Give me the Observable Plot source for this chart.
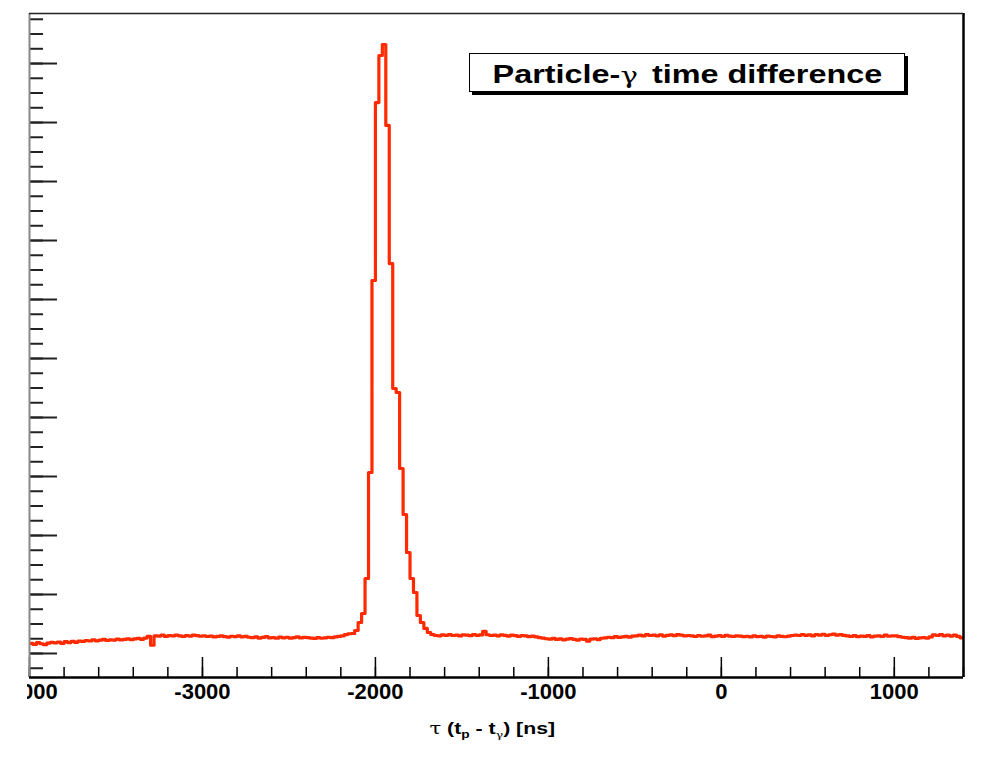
<!DOCTYPE html>
<html>
<head>
<meta charset="utf-8">
<script src="https://cdn.jsdelivr.net/npm/d3@7"></script>
<script src="https://cdn.jsdelivr.net/npm/@observablehq/plot@0.6"></script>
<style>
html, body { margin: 0; padding: 0; background: #fff; }
body { width: 985px; height: 758px; position: relative; overflow: hidden; font-family: "Liberation Sans", Arial, Helvetica, sans-serif; }
#clip { position: absolute; left: 27px; top: 0; width: 958px; height: 758px; overflow: hidden; }
#chart { position: absolute; left: -38px; top: 0; }
#title { position: absolute; left: 469px; top: 53px; width: 436px; height: 39px; box-sizing: border-box; border: 1.5px solid #000; box-shadow: 3px 3px 0 #000; background: #fff; display: flex; align-items: center; justify-content: center; padding-top: 4px; }
#title .t { display: inline-block; font-weight: bold; font-size: 25.5px; transform: scaleX(1.27); white-space: nowrap; color: #000; }
#title .g { font-weight: normal; font-family: "DejaVu Serif", "Liberation Serif", serif; font-size: 23px; margin-right: 4px; }
#xlabel { position: absolute; left: 392px; width: 200px; top: 718px; text-align: center; line-height: 20px; }
#xlabel .t { display: inline-block; font-weight: bold; font-size: 17px; transform: scaleX(1.25); white-space: nowrap; color: #000; }
#xlabel .g { font-weight: normal; font-family: "DejaVu Serif", "Liberation Serif", serif; }
#xlabel sub { font-size: 11px; vertical-align: -4px; line-height: 0; }
#xlabel sub.g2 { font-weight: normal; font-family: "DejaVu Serif", "Liberation Serif", serif; font-size: 10px; }
</style>
</head>
<body>
<div id="clip"><div id="chart"></div></div>
<div id="title"><span class="t">Particle-<span class="g">γ</span> time difference</span></div>
<div id="xlabel"><span class="t"><span class="g">τ</span> (t<sub>p</sub> - t<sub class="g2">γ</sub>) [ns]</span></div>
<script>
// Axis ranges
const xMin = -4000, xMax = 1400, binWidth = 20;
const yMin = 593, yMax = 11848;

// Tick positions / labels
const xMajor = [-4000, -3000, -2000, -1000, 0, 1000];
const xMajorLabels = ["-4000", "-3000", "-2000", "-1000", "0", "1000"];
const xMinor = [-4000, -3800, -3600, -3400, -3200, -3000, -2800, -2600, -2400, -2200, -2000, -1800, -1600, -1400, -1200, -1000, -800, -600, -400, -200, 0, 200, 400, 600, 800, 1000, 1200, 1400];
const yMajor = [1000, 2000, 3000, 4000, 5000, 6000, 7000, 8000, 9000, 10000, 11000];
const yMinor = d3.range(750, yMax, 250);

// Bin counts, 20 ns bins starting at -4000 ns
const leftBaseline = [
  1170, 1153, 1186, 1165, 1150, 1175, 1190, 1180, 1195, 1170, 1200, 1185, 1205, 1190, 1210,
  1205, 1220, 1212, 1230, 1215, 1225, 1240, 1220, 1232, 1228, 1245, 1230, 1238, 1250, 1235, 1248, 1255, 1240, 1262,
  1290,
  1140,
  1300, 1295, 1310, 1290, 1305, 1298, 1312, 1300, 1290, 1305, 1295, 1310, 1302, 1292, 1300,
  1288, 1295, 1280, 1290, 1300, 1285, 1278, 1292, 1286, 1298, 1282, 1290,
  1275, 1268, 1280, 1262, 1272, 1285, 1265, 1270, 1258, 1278, 1266, 1275, 1260, 1270, 1282, 1264, 1272, 1268,
  1262, 1255, 1270, 1258, 1265, 1275, 1268, 1280,
  1290, 1300, 1320, 1335
];
const peakCounts = [
  1339, 1390, 1525, 1678, 2271, 4068, 7322, 10339, 11136, 11322, 9950, 7610, 5492,
  5424, 4136, 3356, 2712, 2271, 2034, 1644, 1525, 1424, 1356, 1322, 1305
];
const rightBaseline = [
  1300, 1315, 1308, 1320, 1305, 1312, 1298, 1318, 1310, 1302, 1322, 1308, 1315,
  1375,
  1318, 1305, 1312, 1300, 1315, 1308, 1296, 1310, 1302, 1290, 1305, 1298, 1285, 1295, 1280, 1270, 1262,
  1250, 1242, 1255, 1238, 1248, 1232, 1245, 1252, 1240, 1228, 1246, 1238, 1210, 1244, 1250, 1236, 1258,
  1265, 1275, 1268, 1285, 1272, 1280, 1290, 1276, 1295, 1300,
  1310, 1298, 1320, 1305, 1312, 1300, 1318, 1295, 1308, 1315, 1302, 1320, 1310, 1298, 1305,
  1300, 1288, 1305, 1292, 1298, 1310, 1285, 1296, 1302, 1290, 1308, 1295, 1288, 1300, 1294,
  1285, 1292, 1280, 1298, 1286, 1290, 1278, 1295, 1288, 1282, 1300, 1290, 1284, 1296, 1305,
  1312, 1305, 1320, 1308, 1316, 1300, 1322, 1310, 1326, 1305, 1318, 1328, 1312, 1320, 1306,
  1298, 1288, 1302, 1285, 1295, 1290, 1305, 1282, 1296, 1300, 1288, 1310, 1292, 1298, 1300,
  1285, 1275, 1268, 1260, 1272, 1255, 1265, 1270, 1262, 1280,
  1318, 1305, 1322, 1300, 1310, 1295, 1312, 1290, 1265
];

const counts = [...leftBaseline, ...peakCounts, ...rightBaseline];
const bins = counts.map((c, i) => ({x: xMin + i * binWidth, y: c}));
bins.push({x: xMin + counts.length * binWidth, y: counts[counts.length - 1]});

const chart = Plot.plot({
  width: 984,
  height: 705,
  marginLeft: 40,
  marginRight: 10,
  marginTop: 13,
  marginBottom: 28,
  x: {domain: [xMin, xMax]},
  y: {domain: [yMin, yMax]},
  style: {fontFamily: "'Liberation Sans', Arial, Helvetica, sans-serif", background: "#fff", color: "#000", overflow: "visible"},
  marks: [
    Plot.line(bins, {x: "x", y: "y", curve: "step-after", stroke: "#ff2a00", strokeWidth: 3.2, clip: true}),
    Plot.axisX({ticks: xMinor, tickSize: -10, tickFormat: () => "", label: null, strokeWidth: 1.5, stroke: "#000"}),
    Plot.axisX({ticks: xMajor, tickSize: -20, tickFormat: () => "", label: null, strokeWidth: 1.5, stroke: "#000"}),
    Plot.axisX({ticks: xMajor, tickSize: 0, tickPadding: 6, tickFormat: (d) => xMajorLabels[xMajor.indexOf(d)], fontSize: 22, fontWeight: "bold", label: null, fill: "#000"}),
    Plot.axisY({ticks: yMinor, tickSize: -14, tickFormat: () => "", label: null, strokeWidth: 2, stroke: "#222"}),
    Plot.axisY({ticks: yMajor, tickSize: -28, tickFormat: () => "", label: null, strokeWidth: 2, stroke: "#222"}),
    Plot.ruleX([xMin], {stroke: "#888", strokeWidth: 2}),
    Plot.ruleX([xMax], {stroke: "#000", strokeWidth: 2.5}),
    Plot.ruleY([yMin], {stroke: "#000", strokeWidth: 2.5}),
    Plot.ruleY([yMax], {stroke: "#222", strokeWidth: 1.5})
  ]
});
document.getElementById("chart").appendChild(chart);
</script>
</body>
</html>
